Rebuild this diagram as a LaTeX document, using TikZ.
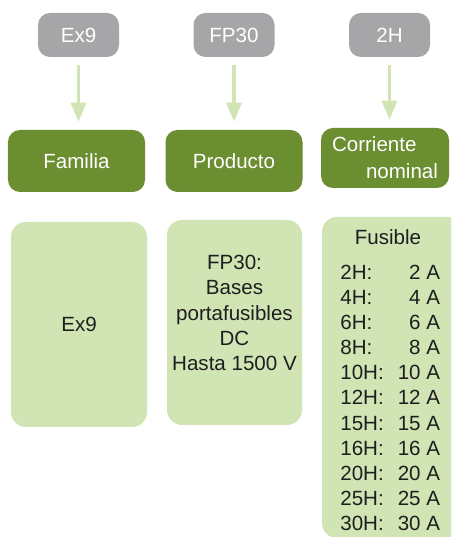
\documentclass[tikz,border=0pt]{standalone}
\usepackage{fontspec}
\setmainfont{Liberation Sans}
\usetikzlibrary{arrows.meta}
\definecolor{taggray}{RGB}{166,166,168}
\definecolor{headgreen}{RGB}{106,142,48}
\definecolor{bodygreen}{RGB}{208,228,180}
\definecolor{bodytext}{RGB}{30,30,30}
\begin{document}
\begin{tikzpicture}[
    tagbox/.style={rectangle, rounded corners=0.24cm, fill=taggray, text=white,
      minimum width=1.62cm, minimum height=0.88cm, inner sep=0},
    headbox/.style={rectangle, rounded corners=0.24cm, fill=headgreen, text=white,
      minimum width=2.74cm, minimum height=1.24cm, inner sep=0},
    bodybox/.style={rectangle, rounded corners=0.30cm, fill=bodygreen, text=bodytext,
      minimum width=2.72cm, minimum height=4.10cm, inner sep=0},
    feed/.style={draw=bodygreen, line width=0.07cm,
      -{Triangle[width=0.30cm,length=0.38cm]}, shorten <=0.16cm, shorten >=0.16cm},
    font=\fontsize{11.7}{14.3}\selectfont]
                \useasboundingbox (0,0) rectangle (9.020000,10.740000);
                \clip (0,0) rectangle (9.020000,10.740000);

                % Drawing code tags
                \node [tagbox] (tagfam) at (1.570000,10.040000) {Ex9};%
                \node [tagbox] (tagprod) at (4.680000,10.040000) {FP30};%
                \node [tagbox] (tagcorr) at (7.790000,10.040000) {2H};%

                % Drawing headers
                \node [headbox] (headfam) at (1.530000,7.520000) {Familia};%
                \node [headbox] (headprod) at (4.680000,7.520000) {Producto};%
                \node [headbox, minimum width=2.56cm, minimum height=1.20cm, align=left]
                  (headcorr) at (7.700000,7.580000) {Corriente\\[1pt]\hspace*{0.68cm}nominal};%

                % Drawing arrows tag -> header
                \draw [feed] (tagfam.south) -- (tagfam.south |- headfam.north);%
                \draw [feed] (tagprod.south) -- (tagprod.south |- headprod.north);%
                \draw [feed] (tagcorr.south) -- (tagcorr.south |- headcorr.north);%

                % Drawing box Familia
                \node [bodybox] (bodyfam) at (1.580000,4.250000) {Ex9};%

                % Drawing box Producto
                \node [bodybox, minimum width=2.70cm] (bodyprod) at (4.690000,4.290000) {};%
                \node [align=center, text=bodytext, inner sep=0] (prodtext) at (4.690000,4.480000)
                  {FP30:\\Bases\\portafusibles\\DC\\Hasta 1500 V};%

                % Drawing box Corriente nominal
                \node [bodybox, minimum width=2.80cm, minimum height=6.42cm] (bodycorr) at (7.840000,3.190000) {};%
                \node [text=bodytext, inner sep=0] (fustitle) at (7.760000,6.000000) {Fusible};%
                \node [anchor=base west, text=bodytext, inner sep=0] (fusrows) at (6.800000,5.154000)
                  {\begin{tabular}[t]{@{}l@{\hspace{0.28cm}}r@{}}
                    2H: & 2 A\\ 4H: & 4 A\\ 6H: & 6 A\\ 8H: & 8 A\\
                    10H: & 10 A\\ 12H: & 12 A\\ 15H: & 15 A\\ 16H: & 16 A\\
                    20H: & 20 A\\ 25H: & 25 A\\ 30H: & 30 A
                  \end{tabular}};%
\end{tikzpicture}
\end{document}
